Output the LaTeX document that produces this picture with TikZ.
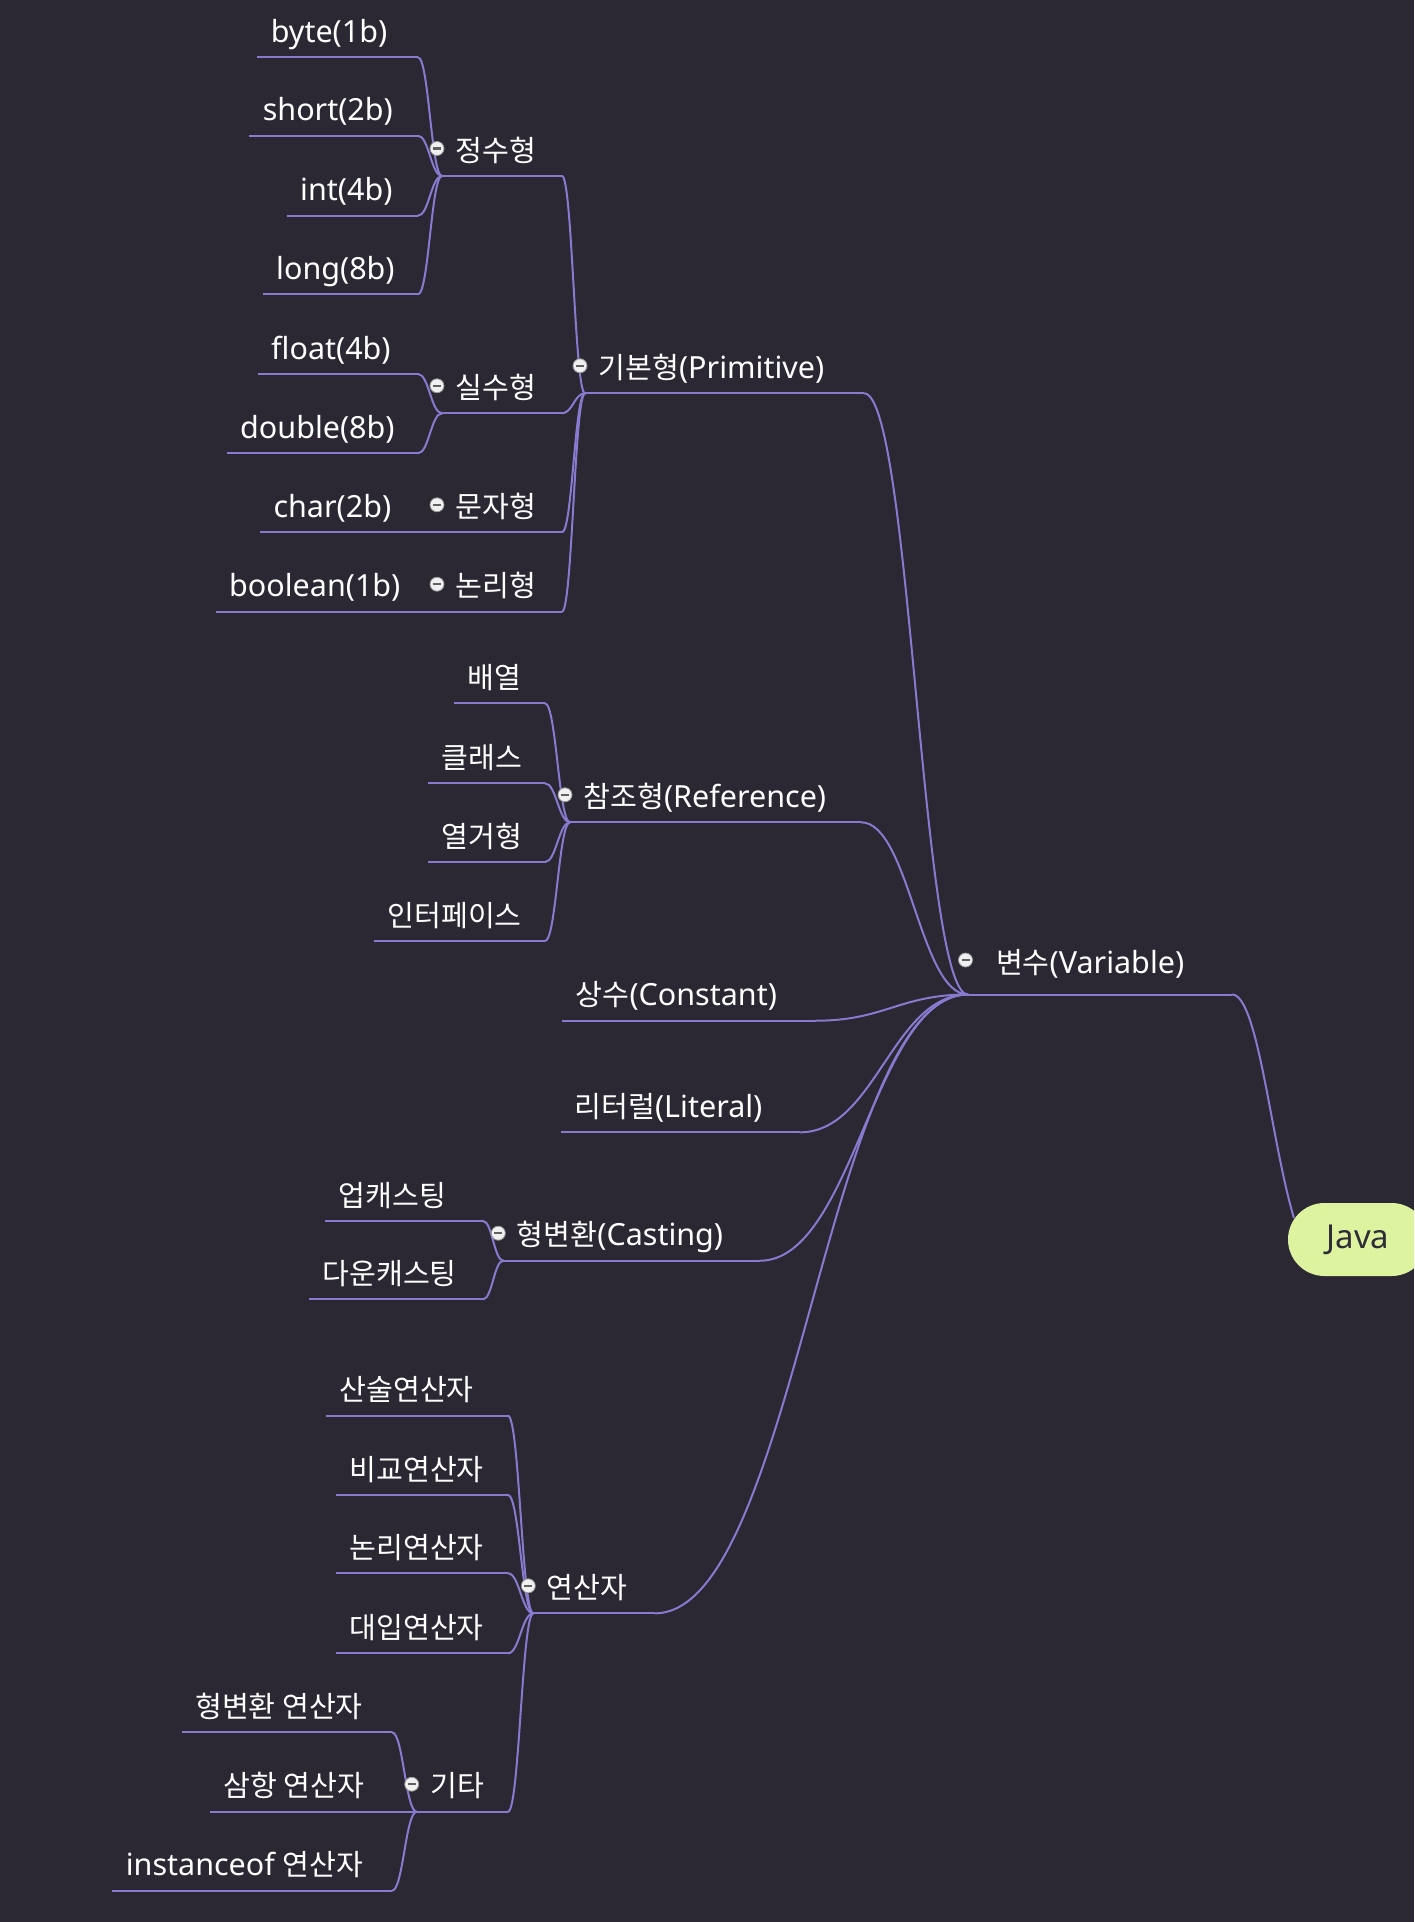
\documentclass[tikz,border=0pt]{standalone}
\usepackage{fontspec}
\setmainfont{Noto Sans}
\newfontfamily\krfont{Noto Sans CJK KR}[Scale=0.957]
\newcommand\kr[1]{{\krfont #1}}
\usetikzlibrary{calc}
\definecolor{bg}{RGB}{43,40,51}
\definecolor{branchc}{RGB}{136,122,206}
\definecolor{javafill}{RGB}{221,243,160}
\definecolor{javatext}{RGB}{45,44,55}
\definecolor{knobfill}{RGB}{240,240,240}
\definecolor{knobline}{RGB}{150,150,150}
\definecolor{knobbar}{RGB}{96,96,96}
% [pad] style name Lx Rx y text
\newcommand\mmtopic[7][13.5pt]{%
  \node[#2, anchor=south west] (#3) at (#4,#6)
    {\makebox[\dimexpr #5pt-#4pt\relax][l]{\hspace*{#1}#7}};}
\newcommand\mmknob[2]{\node[knob] (k#1) at ($(#1.south west)+(#2)$) {};}
\begin{document}
\begin{tikzpicture}[x=1pt,y=-1pt,
  line/.style={draw=branchc, line width=2pt, line cap=round},
  uline/.style={draw=branchc, line width=2pt},
  branch/.style={line, to path={let \p1=(\tikztostart), \p2=(\tikztotarget),
      \n1={0.45*(\x2-\x1)} in .. controls +(\n1,0) and +(-\n1,0) .. (\tikztotarget)}},
  topic/.style={inner xsep=0pt, inner ysep=15pt, outer sep=0pt, text depth=0pt,
      text=white, font=\fontsize{30.5}{36}\selectfont},
  central/.style={topic, inner ysep=21.5pt},
  knob/.style={circle, minimum size=14pt, inner sep=0pt, fill=knobfill,
      draw=knobline, line width=0.8pt,
      path picture={\draw[knobbar, line width=2.4pt]
        ($(path picture bounding box.center)+(-4,0)$) -- ++(8,0);}},
  javanode/.style={fill=javafill, text=javatext, minimum width=140pt,
      minimum height=73pt, rounded corners=36.5pt, inner sep=0pt,
      font=\bfseries\fontsize{33}{38}\selectfont}]
\useasboundingbox (0,0) rectangle (1414,1922);
\clip (0,0) rectangle (1414,1922);
\fill[bg] (0,0) rectangle (1414,1922);

% central topic and root
\node[javanode] (java) at (1358,1239.5) {Java};
\mmtopic[28pt]{central}{var}{968}{1232}{994.5}{\kr{변수}(Variable)}

% level 2
\mmtopic{topic}{prim}{585}{864}{393.3}{\kr{기본형}(Primitive)}
\mmtopic{topic}{ref}{570}{861}{822.3}{\kr{참조형}(Reference)}
\mmtopic{topic}{const}{562.3}{816}{1020.7}{\kr{상수}(Constant)}
\mmtopic{topic}{lit}{561}{800}{1132.3}{\kr{리터럴}(Literal)}
\mmtopic{topic}{cast}{503.3}{760}{1260.7}{\kr{형변환}(Casting)}
\mmtopic{topic}{oper}{533.3}{655}{1613.3}{\kr{연산자}}

% primitive groups
\mmtopic{topic}{integ}{442}{562}{176}{\kr{정수형}}
\mmtopic{topic}{real}{442}{562}{413.3}{\kr{실수형}}
\mmtopic{topic}{chrt}{442}{562}{532.3}{\kr{문자형}}
\mmtopic{topic}{logi}{442}{562}{611.7}{\kr{논리형}}

\mmtopic{topic}{byte}{257.3}{418}{57.3}{byte(1b)}
\mmtopic{topic}{short}{249.3}{418}{135.7}{short(2b)}
\mmtopic{topic}{intn}{286.7}{418}{215.7}{int(4b)}
\mmtopic{topic}{long}{262.7}{418}{294.3}{long(8b)}
\mmtopic{topic}{float}{257.7}{418}{374}{float(4b)}
\mmtopic{topic}{double}{226.7}{418}{453.3}{double(8b)}
\mmtopic{topic}{char}{260}{418}{532.3}{char(2b)}
\mmtopic{topic}{bool}{215.7}{418}{611.7}{boolean(1b)}

% reference
\mmtopic{topic}{arr}{454.3}{545}{703.3}{\kr{배열}}
\mmtopic{topic}{cls}{428.3}{545}{783.3}{\kr{클래스}}
\mmtopic{topic}{enm}{428.3}{545}{862}{\kr{열거형}}
\mmtopic{topic}{ifc}{374}{545}{941}{\kr{인터페이스}}

% casting
\mmtopic{topic}{up}{325}{483}{1221}{\kr{업캐스팅}}
\mmtopic{topic}{down}{309}{483}{1299.3}{\kr{다운캐스팅}}

% operators
\mmtopic{topic}{arith}{326}{508}{1415.7}{\kr{산술연산자}}
\mmtopic{topic}{comp}{336}{508}{1495}{\kr{비교연산자}}
\mmtopic{topic}{logop}{336}{508}{1573.3}{\kr{논리연산자}}
\mmtopic{topic}{assign}{336}{508}{1653.3}{\kr{대입연산자}}
\mmtopic{topic}{etc}{416.7}{508}{1811.7}{\kr{기타}}
\mmtopic{topic}{castop}{181.7}{392}{1732.3}{\kr{형변환 연산자}}
\mmtopic{topic}{tern}{210}{392}{1811.7}{\kr{삼항 연산자}}
\mmtopic{topic}{inst}{112.3}{392}{1890.7}{instanceof \kr{연산자}}

% underlines
\foreach \n in {var,prim,ref,const,lit,cast,oper,integ,real,chrt,logi,
  byte,short,intn,long,float,double,char,bool,arr,cls,enm,ifc,up,down,
  arith,comp,logop,assign,etc,castop,tern,inst}
  \draw[uline] (\n.south west) -- (\n.south east);

% connectors
\draw[line] (var.south east) .. controls +(26,0) and +(-23,-77) .. ($(java.west)+(6,-22)$);
\foreach \c in {prim,ref,const,lit,cast,oper} \draw[branch] (\c.south east) to (var.south west);
\foreach \c in {integ,real,chrt,logi} \draw[branch] (\c.south east) to (prim.south west);
\foreach \c in {byte,short,intn,long} \draw[branch] (\c.south east) to (integ.south west);
\foreach \c in {float,double} \draw[branch] (\c.south east) to (real.south west);
\draw[branch] (char.south east) to (chrt.south west);
\draw[branch] (bool.south east) to (logi.south west);
\foreach \c in {arr,cls,enm,ifc} \draw[branch] (\c.south east) to (ref.south west);
\foreach \c in {up,down} \draw[branch] (\c.south east) to (cast.south west);
\foreach \c in {arith,comp,logop,assign,etc} \draw[branch] (\c.south east) to (oper.south west);
\foreach \c in {castop,tern,inst} \draw[branch] (\c.south east) to (etc.south west);

% collapse knobs
\mmknob{var}{-2.5,-34.5}
\foreach \n in {prim,ref,cast,oper,integ,real,chrt,logi,etc} {\mmknob{\n}{-5,-27.5}}
\end{tikzpicture}
\end{document}
